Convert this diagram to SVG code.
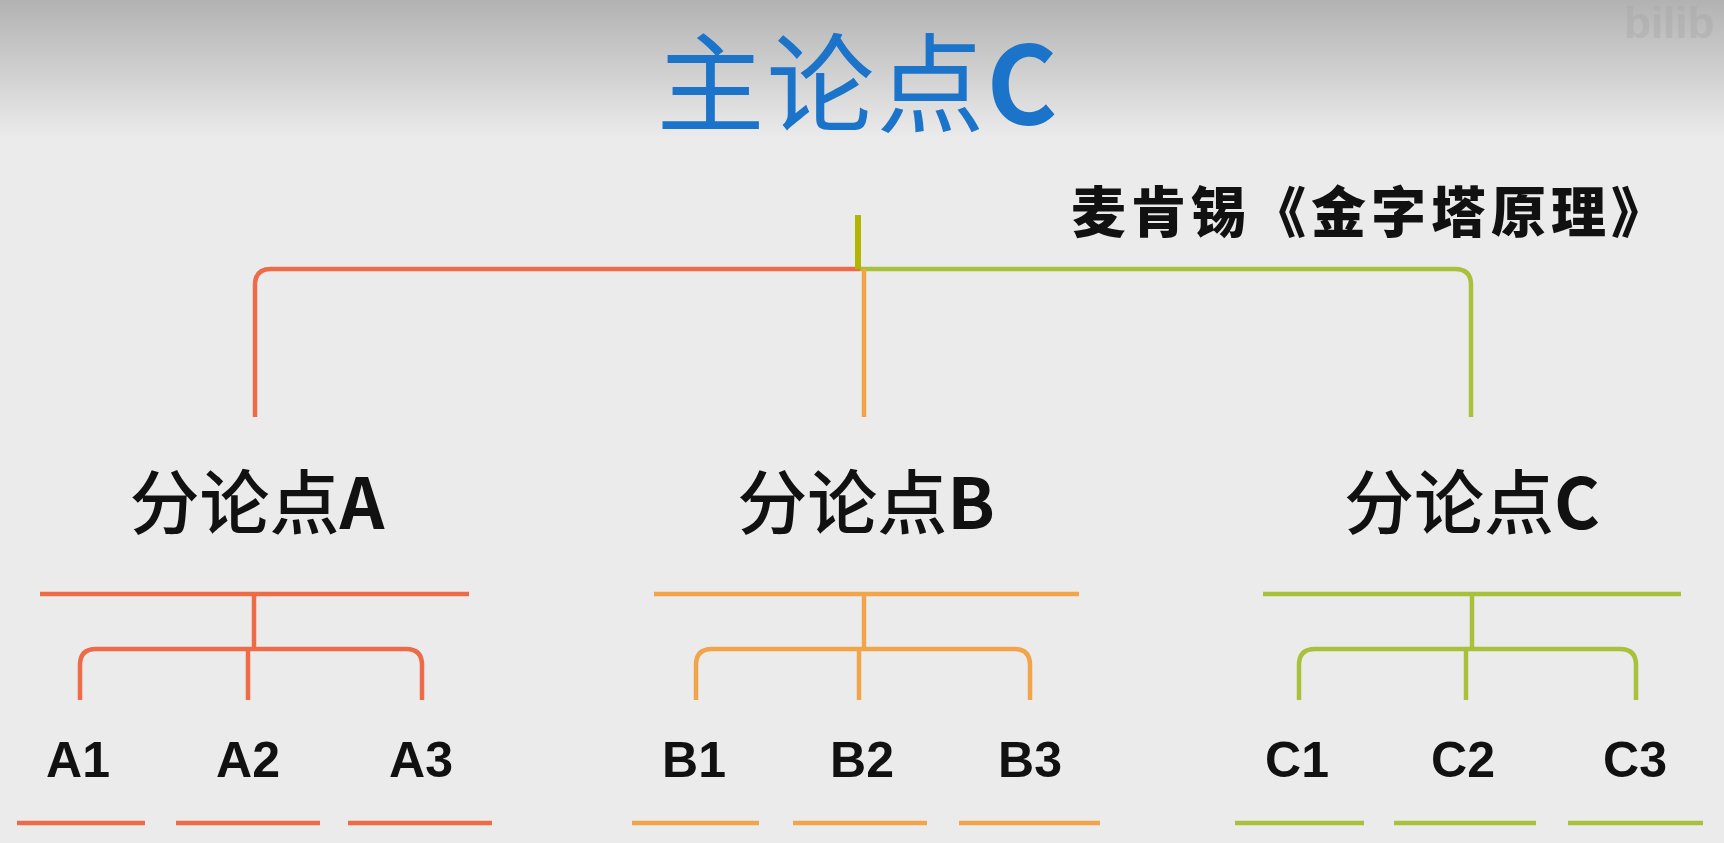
<svg xmlns="http://www.w3.org/2000/svg" width="1724" height="843" viewBox="0 0 1724 843">
  <defs>
    <linearGradient id="bg" x1="0" y1="0" x2="0" y2="1">
      <stop offset="0" stop-color="#b2b2b2"/>
      <stop offset="1" stop-color="#ebebeb"/>
    </linearGradient>
    <style>
      .ln { fill: none; stroke-width: 4.5; stroke-linejoin: round; }
      .red { stroke: #ee6b47; }
      .org { stroke: #f1a44a; }
      .grn { stroke: #a9c13a; }
      .cjk { font-family: "Noto Sans CJK SC", "Noto Sans", sans-serif; }
      .l2 { font-size: 70px; fill: #111; text-anchor: middle; font-weight: 500; }
      .l3 { font-family: "Liberation Sans", "Noto Sans", sans-serif; font-size: 50px; font-weight: bold; fill: #111; text-anchor: middle; }
    </style>
  </defs>
  <rect x="0" y="0" width="1724" height="843" fill="#ebebeb"/>
  <rect x="0" y="0" width="1724" height="138" fill="url(#bg)"/>
  <text x="1624" y="38" font-family="Liberation Sans, sans-serif" font-size="44" font-weight="bold" fill="#a9a9a9" opacity="0.45">bilib</text>

  <g id="connectors">
    <path class="ln red" d="M 860 269 H 271 Q 255 269 255 285 V 417"/>
    <path class="ln grn" d="M 860 269 H 1455 Q 1471 269 1471 285 V 417"/>
    <path class="ln org" d="M 864 269 V 417"/>
    <path fill="none" stroke="#b2b600" stroke-width="6" d="M 858 215 V 269"/>

    <path class="ln red" d="M 40 594 H 469"/>
    <path class="ln red" d="M 254 594 V 649"/>
    <path class="ln red" d="M 80 700 V 665 Q 80 649 96 649 H 406 Q 422 649 422 665 V 700"/>
    <path class="ln red" d="M 248 649 V 700"/>
    <path class="ln red" stroke-width="5" d="M 17 823 H 145 M 176 823 H 320 M 348 823 H 492"/>

    <path class="ln org" d="M 654 594 H 1079"/>
    <path class="ln org" d="M 864 594 V 649"/>
    <path class="ln org" d="M 696 700 V 665 Q 696 649 712 649 H 1014 Q 1030 649 1030 665 V 700"/>
    <path class="ln org" d="M 859 649 V 700"/>
    <path class="ln org" stroke-width="5" d="M 632 823 H 759 M 793 823 H 927 M 959 823 H 1100"/>

    <path class="ln grn" d="M 1263 594 H 1681"/>
    <path class="ln grn" d="M 1472 594 V 649"/>
    <path class="ln grn" d="M 1299 700 V 665 Q 1299 649 1315 649 H 1620 Q 1636 649 1636 665 V 700"/>
    <path class="ln grn" d="M 1466 649 V 700"/>
    <path class="ln grn" stroke-width="5" d="M 1235 823 H 1364 M 1394 823 H 1536 M 1568 823 H 1703"/>
  </g>

  <g id="main">
    <text class="cjk" x="858" y="124" font-size="108" fill="#1b74c9" text-anchor="middle" letter-spacing="2">主论点<tspan font-weight="bold">C</tspan></text>
  </g>
  <g id="source">
    <text class="cjk" x="1071" y="232" font-size="55" font-weight="900" letter-spacing="5" fill="#111">麦肯锡《金字塔原理》</text>
  </g>

  <g id="pointA"><text class="cjk l2" x="257" y="529">分论点<tspan font-weight="bold">A</tspan></text></g>
  <g id="pointB"><text class="cjk l2" x="866" y="529">分论点<tspan font-weight="bold">B</tspan></text></g>
  <g id="pointC"><text class="cjk l2" x="1472" y="529">分论点<tspan font-weight="bold">C</tspan></text></g>

  <g id="A1"><text class="l3" x="78" y="777">A1</text></g>
  <g id="A2"><text class="l3" x="248" y="777">A2</text></g>
  <g id="A3"><text class="l3" x="421" y="777">A3</text></g>
  <g id="B1"><text class="l3" x="694" y="777">B1</text></g>
  <g id="B2"><text class="l3" x="862" y="777">B2</text></g>
  <g id="B3"><text class="l3" x="1030" y="777">B3</text></g>
  <g id="C1"><text class="l3" x="1297" y="777">C1</text></g>
  <g id="C2"><text class="l3" x="1463" y="777">C2</text></g>
  <g id="C3"><text class="l3" x="1635" y="777">C3</text></g>
</svg>
